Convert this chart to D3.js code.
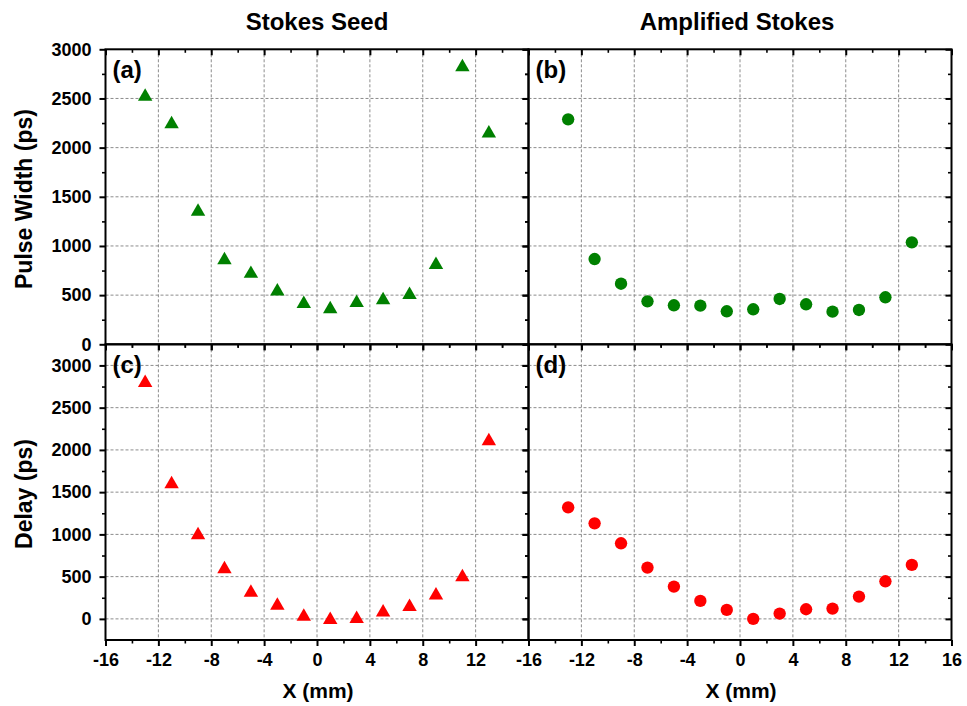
<!DOCTYPE html>
<html>
<head>
<meta charset="utf-8">
<script src="https://cdn.jsdelivr.net/npm/d3@7"></script>
<style>
  html, body { margin: 0; padding: 0; background: #fff; }
  svg { display: block; font-family: "Liberation Sans", Arial, sans-serif; }
</style>
</head>
<body>
<svg id="chart" width="967" height="706"></svg>
<script>
// ---------------- data ----------------
const xPositions = [-13, -11, -9, -7, -5, -3, -1, 1, 3, 5, 7, 9, 11, 13];
const seedPulseWidth = [2540, 2260, 1370, 878, 739, 559, 433, 379, 444, 471, 525, 830, 2840, 2166];
const ampPulseWidth  = [2288, 867, 616, 437, 397, 393, 336, 356, 461, 407, 332, 349, 478, 1037];
const seedDelay      = [2818, 1620, 1017, 615, 335, 181, 51, 12, 24, 102, 166, 303, 520, 2128];
const ampDelay       = [1320, 1131, 895, 607, 382, 213, 106, 0, 63, 114, 122, 264, 445, 639];

const xMajorTicks = [-16, -12, -8, -4, 0, 4, 8, 12, 16];
const xMinorTicks = [-14, -10, -6, -2, 2, 6, 10, 14];
const yMajorTicks = [0, 500, 1000, 1500, 2000, 2500, 3000];
const yMinorTicks = [250, 750, 1250, 1750, 2250, 2750];

const columnTitles = ["Stokes Seed", "Amplified Stokes"];
const rowLabels = ["Pulse Width (ps)", "Delay (ps)"];
const xAxisLabel = "X (mm)";
const panelLabels = ["(a)", "(b)", "(c)", "(d)"];

// ---------------- layout ----------------
const FONT = '"Liberation Sans", Arial, sans-serif';
const cols = [{x0: 105.5, x1: 528.5}, {x0: 528.5, x1: 951.5}];
const rows = [
  {y0: 49.3, y1: 344.3, domain: [0, 3000]},
  {y0: 344.3, y1: 640, domain: [-250, 3250]}
];
const green = "#008000", red = "#ff0000";

const panels = [
  {r: 0, c: 0, values: seedPulseWidth, shape: "triangle", color: green, label: panelLabels[0]},
  {r: 0, c: 1, values: ampPulseWidth,  shape: "circle",   color: green, label: panelLabels[1]},
  {r: 1, c: 0, values: seedDelay,      shape: "triangle", color: red,   label: panelLabels[2]},
  {r: 1, c: 1, values: ampDelay,       shape: "circle",   color: red,   label: panelLabels[3]}
];

const svg = d3.select("#chart");

function styleAxis(g, width) {
  g.select(".domain").remove();
  g.selectAll(".tick line").attr("stroke", "#000").attr("stroke-width", width);
  g.selectAll(".tick text")
    .attr("font-family", FONT).attr("font-size", 18).attr("font-weight", "bold").attr("fill", "#000");
}

panels.forEach(p => {
  const col = cols[p.c], row = rows[p.r];
  const x = d3.scaleLinear().domain([-16, 16]).range([col.x0, col.x1]);
  const y = d3.scaleLinear().domain(row.domain).range([row.y1, row.y0]);
  const g = svg.append("g");

  // grid
  const gridX = xMajorTicks.filter(v => v > -16 && v < 16);
  const gridY = yMajorTicks.filter(v => v > row.domain[0] && v < row.domain[1]);
  g.append("g").selectAll("line").data(gridX).join("line")
    .attr("x1", d => x(d)).attr("x2", d => x(d))
    .attr("y1", row.y0).attr("y2", row.y1)
    .attr("stroke", "#8c8c8c").attr("stroke-width", 1).attr("stroke-dasharray", "3,2");
  g.append("g").selectAll("line").data(gridY).join("line")
    .attr("x1", col.x0).attr("x2", col.x1)
    .attr("y1", d => y(d)).attr("y2", d => y(d))
    .attr("stroke", "#8c8c8c").attr("stroke-width", 1).attr("stroke-dasharray", "3,2");

  // bottom axis (outward); the shared "16 / -16" position shows a single "-16"
  const showX = p.r === 1;
  const labelX = d => showX && !(p.c === 0 && d === 16);
  const bMaj = g.append("g").attr("transform", `translate(0,${row.y1})`)
    .call(d3.axisBottom(x).tickValues(xMajorTicks).tickSize(6).tickPadding(7));
  styleAxis(bMaj, 2);
  bMaj.selectAll(".tick text").text(d => labelX(d) ? (d < 0 ? "-" + Math.abs(d) : String(d)) : "");
  const bMin = g.append("g").attr("transform", `translate(0,${row.y1})`)
    .call(d3.axisBottom(x).tickValues(xMinorTicks).tickSize(3.5).tickFormat(() => ""));
  styleAxis(bMin, 1.6);

  // top axis (inward)
  const tMaj = g.append("g").attr("transform", `translate(0,${row.y0})`)
    .call(d3.axisTop(x).tickValues(xMajorTicks).tickSize(-6).tickFormat(() => ""));
  styleAxis(tMaj, 2);
  const tMin = g.append("g").attr("transform", `translate(0,${row.y0})`)
    .call(d3.axisTop(x).tickValues(xMinorTicks).tickSize(-3.5).tickFormat(() => ""));
  styleAxis(tMin, 1.6);

  // left axis (outward)
  const showY = p.c === 0;
  const lMaj = g.append("g").attr("transform", `translate(${col.x0},0)`)
    .call(d3.axisLeft(y).tickValues(yMajorTicks).tickSize(6).tickPadding(8)
      .tickFormat(showY ? d3.format("d") : () => ""));
  styleAxis(lMaj, 2);
  const lMin = g.append("g").attr("transform", `translate(${col.x0},0)`)
    .call(d3.axisLeft(y).tickValues(yMinorTicks).tickSize(3.5).tickFormat(() => ""));
  styleAxis(lMin, 1.6);

  // right axis (inward)
  const rMaj = g.append("g").attr("transform", `translate(${col.x1},0)`)
    .call(d3.axisRight(y).tickValues(yMajorTicks).tickSize(-6).tickFormat(() => ""));
  styleAxis(rMaj, 2);
  const rMin = g.append("g").attr("transform", `translate(${col.x1},0)`)
    .call(d3.axisRight(y).tickValues(yMinorTicks).tickSize(-3.5).tickFormat(() => ""));
  styleAxis(rMin, 1.6);

  // frame
  g.append("rect")
    .attr("x", col.x0).attr("y", row.y0)
    .attr("width", col.x1 - col.x0).attr("height", row.y1 - row.y0)
    .attr("fill", "none").attr("stroke", "#000").attr("stroke-width", 2);

  // markers
  const pts = xPositions.map((xv, i) => ({x: xv, v: p.values[i]}));
  const triSize = 90;
  const triOffset = Math.sqrt(triSize / (Math.sqrt(3) * 3)) / 2;
  const sym = d3.symbol().type(p.shape === "triangle" ? d3.symbolTriangle : d3.symbolCircle)
    .size(p.shape === "triangle" ? triSize : 120);
  g.append("g").selectAll("path").data(pts).join("path")
    .attr("d", sym)
    .attr("transform", d => `translate(${x(d.x)},${y(d.v) + (p.shape === "triangle" ? triOffset : 0)})`)
    .attr("fill", p.color);

  // panel label
  g.append("text")
    .attr("x", col.x0 + 7).attr("y", row.y0 + 29)
    .attr("font-family", FONT).attr("font-size", 24).attr("font-weight", "bold")
    .text(p.label);
});

// column titles
cols.forEach((col, i) => {
  svg.append("text")
    .attr("x", (col.x0 + col.x1) / 2 - (i === 1 ? 3 : 0)).attr("y", 30)
    .attr("text-anchor", "middle")
    .attr("font-family", FONT).attr("font-size", 24).attr("font-weight", "bold")
    .text(columnTitles[i]);
  svg.append("text")
    .attr("x", (col.x0 + col.x1) / 2 + 1).attr("y", 698)
    .attr("text-anchor", "middle")
    .attr("font-family", FONT).attr("font-size", 21).attr("font-weight", "bold")
    .text(xAxisLabel);
});

// row labels
rows.forEach((row, i) => {
  const cy = i === 0 ? 199 : 494;
  svg.append("text")
    .attr("transform", `translate(32,${cy}) rotate(-90)`)
    .attr("text-anchor", "middle")
    .attr("font-family", FONT).attr("font-size", 23).attr("font-weight", "bold")
    .text(rowLabels[i]);
});
</script>
</body>
</html>
